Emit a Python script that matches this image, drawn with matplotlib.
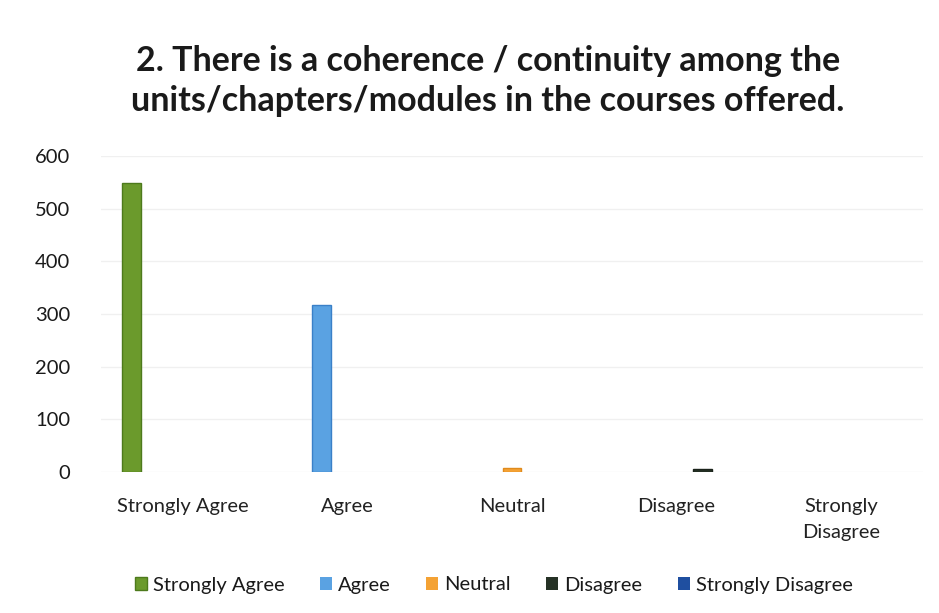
import matplotlib
matplotlib.use("Agg")
import matplotlib.pyplot as plt
import numpy as np

categories = ["Strongly Agree", "Agree", "Neutral", "Disagree", "Strongly\nDisagree"]
series_names = ["Strongly Agree", "Agree", "Neutral", "Disagree", "Strongly Disagree"]
# each series only has a response in its own category
values = [548, 318, 8, 6, 0]
colors = ["#6b9a2c", "#5aa2e2", "#f4a234", "#263226", "#1f4fa0"]
edges = ["#4d7a1c", "#3a80c8", "#e08a1c", "#1a221a", "#173c7c"]
yticks = [0, 100, 200, 300, 400, 500, 600]

plt.rcParams['font.family'] = ['Lato', 'DejaVu Sans']

fig = plt.figure(figsize=(9.39, 6.13), dpi=100)
W, H = 939, 613
ax = fig.add_axes([101 / W, 1 - 472 / H, (923 - 101) / W, (472 - 156) / H])

x = np.arange(len(categories))
slot = 0.158
bw = 0.115
for i, name in enumerate(series_names):
    vals = [values[i] if j == i else 0 for j in range(len(categories))]
    lws = [1.0 if v > 0 else 0.0 for v in vals]
    ax.bar(x + (i - 2) * slot, vals, width=bw, color=colors[i], edgecolor=edges[i],
           linewidth=lws, label=name, zorder=3)

ax.set_xlim(-0.5, len(categories) - 0.5)
ax.set_ylim(0, 600)
ax.set_yticks(yticks)
ax.set_yticklabels([str(t) for t in yticks], fontsize=14.5, color="#1a1a1a")
ax.set_xticks(x)
ax.set_xticklabels(categories, fontsize=14.5, color="#222222", linespacing=1.65)
ax.tick_params(axis='both', length=0)
ax.tick_params(axis='y', pad=22)
ax.tick_params(axis='x', pad=19)
ax.grid(axis='y', color="#f0f0f0", linewidth=1.0, zorder=0)
for s in ax.spines.values():
    s.set_visible(False)

fig.text(488 / W, 1 - 81 / H,
         "2. There is a coherence / continuity among the\nunits/chapters/modules in the courses offered.",
         ha='center', va='center', fontsize=24.5, fontweight='bold', color="#1a1a1a",
         linespacing=1.3)

leg = fig.legend(loc='center', bbox_to_anchor=(494 / W, 1 - 585 / H), ncol=5, frameon=False,
                 fontsize=14.5, handlelength=0.6, handleheight=0.6, handletextpad=0.3,
                 columnspacing=1.75)
for t in leg.get_texts():
    t.set_color("#1a1a1a")

fig.savefig("out.png", dpi=100, facecolor="white")
